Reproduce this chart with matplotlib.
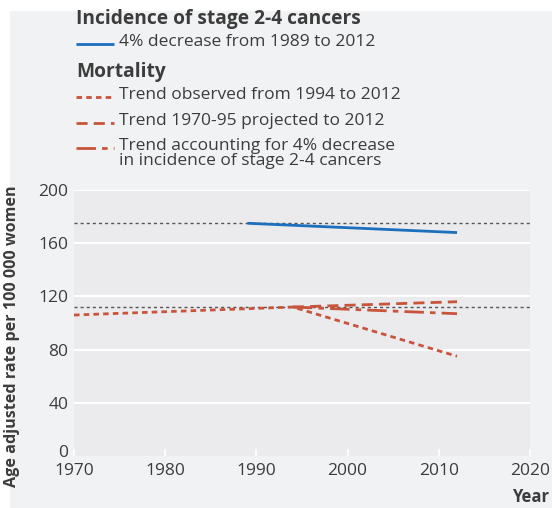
import numpy as np
import matplotlib.pyplot as plt
import matplotlib.transforms as mtransforms
from matplotlib.lines import Line2D
from matplotlib.patches import Rectangle

plt.rcParams['font.family'] = ['Open Sans', 'DejaVu Sans']

# Incidence of stage 2-4 cancers
inc_years = [1989, 2012]
inc_rate = [175, 168]

# Mortality
obs_years = [1970, 1994, 2012]
obs_rate = [106, 112, 75]
proj_years = [1994, 2012]
proj_rate = [112, 116]
adj_years = [1994, 2012]
adj_rate = [112, 107]

ref_levels = [175, 112]

x_ticks = [1970, 1980, 1990, 2000, 2010, 2020]
y_ticks = [0, 40, 80, 120, 160, 200]

blue = '#1b6fbc'
red = '#c8543c'
txt = '#3c3c3c'

fig = plt.figure(figsize=(5.52, 5.08), dpi=100)
fig.patch.set_facecolor('white')
fig.patches.append(Rectangle((10 / 552, 0), 1, 1 - 11 / 508, transform=fig.transFigure,
                             facecolor='#f1f2f4', edgecolor='none', zorder=-10))

ax = fig.add_axes([74 / 552, 52 / 508, (530 - 74) / 552, (456 - 190) / 508])
ax.set_facecolor('#ebebee')
for s in ax.spines.values():
    s.set_visible(False)
ax.set_xlim(1970, 2020)
ax.set_ylim(0, 200)
ax.set_xticks(x_ticks)
ax.set_yticks(y_ticks)
ax.tick_params(axis='x', direction='in', length=5, color='white', width=1.2,
               labelsize=12.5, labelcolor=txt, pad=5)
ax.tick_params(axis='y', length=0, labelsize=12.5, labelcolor=txt, pad=4)
for v in y_ticks[1:]:
    ax.axhline(v, color='white', lw=1.5, zorder=1)

# nudge the "0" label up so it clears "1970"
zero_lab = ax.get_yticklabels()[0]
zero_lab.set_transform(zero_lab.get_transform() +
                       mtransforms.ScaledTranslation(0, 5 / 100, fig.dpi_scale_trans))

for v in ref_levels:
    ax.axhline(v, color='#555555', lw=1, dashes=(2.2, 2.2), zorder=2)

ax.plot(inc_years, inc_rate, color=blue, lw=2, solid_capstyle='butt', zorder=3)
ax.plot(obs_years, obs_rate, color=red, lw=2, dashes=(2, 1.5), zorder=3)
ax.plot(proj_years, proj_rate, color=red, lw=2, dashes=(4, 2.2), zorder=3)
ax.plot(adj_years, adj_rate, color=red, lw=2, dashes=(7, 2.2, 2, 2.2), zorder=3)

ax.set_ylabel('Age adjusted rate per 100 000 women', fontsize=11.6, fontweight='bold',
              color=txt)
ax.yaxis.set_label_coords(-0.118, (456 - 336) / 266)
fig.text(549 / 552, 1 - 497 / 508, 'Year', fontsize=12, fontweight='bold', color=txt,
         ha='right', va='center')

# legend block
def fy(y):
    return 1 - y / 508

fig.text(76 / 552, fy(19), 'Incidence of stage 2-4 cancers', fontsize=13.8,
         fontweight='bold', color=txt, va='center')
fig.text(76 / 552, fy(72), 'Mortality', fontsize=13.8, fontweight='bold', color=txt,
         va='center')
entries = [
    (44, blue, None, '4% decrease from 1989 to 2012'),
    (97, red, (2, 1.5), 'Trend observed from 1994 to 2012'),
    (123, red, (4, 2.2), 'Trend 1970-95 projected to 2012'),
    (148, red, (7, 2.2, 2, 2.2), 'Trend accounting for 4% decrease\nin incidence of stage 2-4 cancers'),
]
for y, c, d, label in entries:
    ln = Line2D([76 / 552, 114 / 552], [fy(y), fy(y)], transform=fig.transFigure,
                color=c, lw=2, solid_capstyle='butt')
    if d is not None:
        ln.set_dashes(d)
    fig.lines.append(ln)
    fig.text(119 / 552, fy(y - 10), label, fontsize=12.5, color=txt, va='top',
             linespacing=0.95)

plt.savefig('out.png', dpi=100)
